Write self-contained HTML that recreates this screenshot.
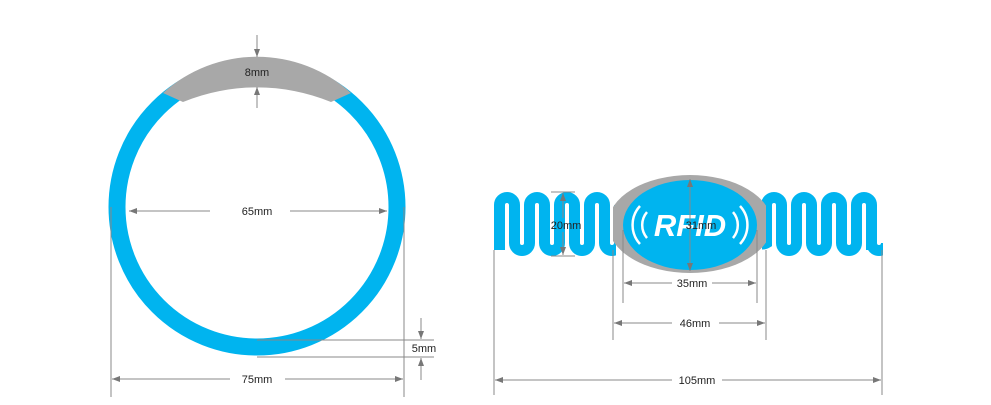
<!DOCTYPE html>
<html><head><meta charset="utf-8"><style>
html,body{margin:0;padding:0;background:#fff;width:991px;height:405px;overflow:hidden}
text{font-family:"Liberation Sans",sans-serif;font-size:11px;fill:#222}
</style></head><body>
<svg width="991" height="405" viewBox="0 0 991 405" xmlns="http://www.w3.org/2000/svg">
<defs>
<marker id="a" markerWidth="8" markerHeight="6" refX="8" refY="3" orient="auto" markerUnits="userSpaceOnUse"><path d="M0,0 L8,3 L0,6 Z" fill="#777"/></marker>
<clipPath id="cl"><rect x="494" y="150" width="122" height="120"/></clipPath>
<clipPath id="cr"><rect x="762" y="150" width="121" height="120"/></clipPath>
<clipPath id="co"><rect x="613" y="160" width="153" height="120"/></clipPath>
</defs>
<!-- ring -->
<circle cx="257" cy="207" r="140" fill="none" stroke="#00b4ef" stroke-width="17"/>
<path d="M163,93 A140,140 0 0 1 351,93 L331,102 A195,195 0 0 0 183,102 Z" fill="#a8a8a8"/>
<g stroke="#888" stroke-width="1" fill="none">
<line x1="257" y1="35" x2="257" y2="57" marker-end="url(#a)"/>
<line x1="257" y1="108" x2="257" y2="87" marker-end="url(#a)"/>
<line x1="210" y1="211" x2="129" y2="211" marker-end="url(#a)"/>
<line x1="290" y1="211" x2="387" y2="211" marker-end="url(#a)"/>
<line x1="111" y1="207" x2="111" y2="397"/>
<line x1="404" y1="207" x2="404" y2="397"/>
<line x1="230" y1="379" x2="112" y2="379" marker-end="url(#a)"/>
<line x1="285" y1="379" x2="403" y2="379" marker-end="url(#a)"/>
<line x1="257" y1="340" x2="434" y2="340"/>
<line x1="257" y1="357" x2="434" y2="357"/>
<line x1="421" y1="318" x2="421" y2="339" marker-end="url(#a)"/>
<line x1="421" y1="380" x2="421" y2="358" marker-end="url(#a)"/>
</g>
<text x="257" y="76" text-anchor="middle">8mm</text>
<text x="257" y="215" text-anchor="middle">65mm</text>
<text x="257" y="383" text-anchor="middle">75mm</text>
<text x="424" y="352" text-anchor="middle">5mm</text>
<!-- spirals -->
<g fill="none" stroke="#00b4ef" stroke-width="11">
<path clip-path="url(#cl)" d="M499.5,250 V205 A7.5,7.5 0 0 1 514.5,205 V243 A7.5,7.5 0 0 0 529.5,243 V205 A7.5,7.5 0 0 1 544.5,205 V243 A7.5,7.5 0 0 0 559.5,243 V205 A7.5,7.5 0 0 1 574.5,205 V243 A7.5,7.5 0 0 0 589.5,243 V205 A7.5,7.5 0 0 1 604.5,205 V243 A7.5,7.5 0 0 0 619.5,243 V205"/>
<path clip-path="url(#cr)" d="M759,243 A7.5,7.5 0 0 0 766.5,243 V205 A7.5,7.5 0 0 1 781.5,205 V243 A7.5,7.5 0 0 0 796.5,243 V205 A7.5,7.5 0 0 1 811.5,205 V243 A7.5,7.5 0 0 0 826.5,243 V205 A7.5,7.5 0 0 1 841.5,205 V243 A7.5,7.5 0 0 0 856.5,243 V205 A7.5,7.5 0 0 1 871.5,205 V250"/>
<path d="M871.5,243 A7.5,7.5 0 0 0 886.5,243" clip-path="url(#cr)"/>
</g>
<ellipse cx="690" cy="224" rx="82" ry="49" fill="#a8a8a8" clip-path="url(#co)"/>
<ellipse cx="690" cy="225" rx="67" ry="45" fill="#00b4ef"/>
<text x="690" y="236" text-anchor="middle" style="font-size:31px;font-weight:bold;font-style:italic;fill:#fff">RFID</text>
<g fill="none" stroke="#fff" stroke-width="2.5">
<path d="M647,212 A20,20 0 0 0 647,238"/><path d="M640,206 A28,28 0 0 0 640,244"/>
<path d="M733,212 A20,20 0 0 1 733,238"/><path d="M740,206 A28,28 0 0 1 740,244"/>
</g>
<g stroke="#888" stroke-width="1" fill="none">
<line x1="690" y1="225" x2="690" y2="179" marker-end="url(#a)"/>
<line x1="690" y1="225" x2="690" y2="271" marker-end="url(#a)"/>
<line x1="551" y1="192" x2="575" y2="192"/>
<line x1="551" y1="256" x2="575" y2="256"/>
<line x1="563" y1="218" x2="563" y2="193" marker-end="url(#a)"/>
<line x1="563" y1="232" x2="563" y2="255" marker-end="url(#a)"/>
<line x1="623" y1="230" x2="623" y2="303"/>
<line x1="757" y1="230" x2="757" y2="303"/>
<line x1="672" y1="283" x2="624" y2="283" marker-end="url(#a)"/>
<line x1="712" y1="283" x2="756" y2="283" marker-end="url(#a)"/>
<line x1="613" y1="250" x2="613" y2="340"/>
<line x1="766" y1="250" x2="766" y2="340"/>
<line x1="672" y1="323" x2="614" y2="323" marker-end="url(#a)"/>
<line x1="719" y1="323" x2="765" y2="323" marker-end="url(#a)"/>
<line x1="494" y1="250" x2="494" y2="395"/>
<line x1="882" y1="250" x2="882" y2="395"/>
<line x1="672" y1="380" x2="495" y2="380" marker-end="url(#a)"/>
<line x1="722" y1="380" x2="881" y2="380" marker-end="url(#a)"/>
</g>
<text x="701" y="229" text-anchor="middle">31mm</text>
<text x="566" y="229" text-anchor="middle">20mm</text>
<text x="692" y="287" text-anchor="middle">35mm</text>
<text x="695" y="327" text-anchor="middle">46mm</text>
<text x="697" y="384" text-anchor="middle">105mm</text>
</svg>
</body></html>
